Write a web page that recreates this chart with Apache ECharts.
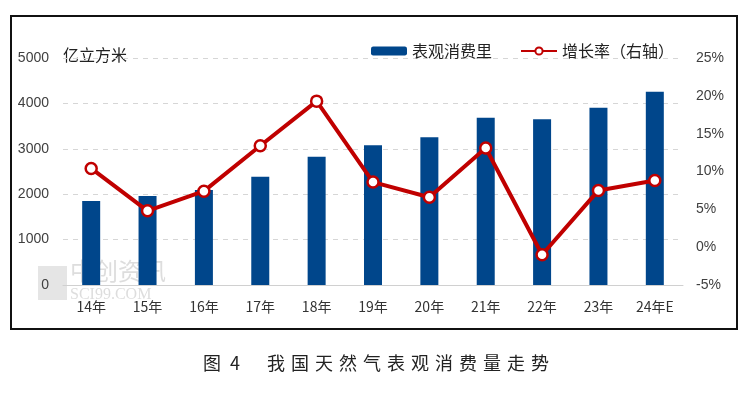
<!DOCTYPE html>
<html>
<head>
<meta charset="utf-8">
<script src="https://cdn.jsdelivr.net/npm/echarts@6/dist/echarts.min.js"></script>
<style>
  html, body { margin: 0; padding: 0; background: #fff; }
  #chart { width: 752px; height: 397px; }
</style>
</head>
<body>
<div id="chart"></div>
<script>
// data
const years = ['14年', '15年', '16年', '17年', '18年', '19年', '20年', '21年', '22年', '23年', '24年E']
const consumption = [1850, 1960, 2090, 2385, 2826, 3077, 3253, 3685, 3650, 3905, 4258]
const growth = [10.4, 4.8, 7.4, 13.4, 19.3, 8.6, 6.6, 13.1, -1.0, 7.5, 8.8]
const leftTicks = { min: 0, max: 5000, step: 1000 }
const rightTicks = { min: -5, max: 25, step: 5 }

const labelFont = 'Liberation Sans, Noto Sans CJK SC, sans-serif'
const cjkFont = 'Noto Sans CJK SC, sans-serif'

const myChart = echarts.init(document.getElementById('chart'))

const options = {
  animation: false,
  backgroundColor: '#fff',
  title: {
    text: '图\u20024\u2003\u2002我\u2004国\u2004天\u2004然\u2004气\u2004表\u2004观\u2004消\u2004费\u2004量\u2004走\u2004势',
    left: 'center',
    top: 349,
    textStyle: { fontFamily: cjkFont, fontSize: 18, fontWeight: 'normal', color: '#222' }
  },
  legend: {
    left: 366,
    top: 38,
    itemGap: 28,
    itemWidth: 36,
    itemHeight: 9,
    textStyle: { fontFamily: cjkFont, fontSize: 16, color: '#222' },
    data: ['表观消费里', '增长率（右轴）']
  },
  grid: { left: 63, right: 69, top: 58, bottom: 112 },
  xAxis: {
    type: 'category',
    data: years,
    axisLine: { lineStyle: { color: '#d0d0d0', width: 1 } },
    axisTick: { show: false },
    axisLabel: { fontFamily: cjkFont, fontSize: 14, color: '#333', margin: 15 }
  },
  yAxis: [
    {
      type: 'value',
      min: leftTicks.min,
      max: leftTicks.max,
      interval: leftTicks.step,
      axisLine: { show: false },
      axisTick: { show: false },
      axisLabel: { fontFamily: labelFont, fontSize: 14, color: '#404040', margin: 14, formatter: v => String(v) },
      splitLine: { lineStyle: { color: '#d6d6d6', type: [5, 5], width: 1 } }
    },
    {
      type: 'value',
      min: rightTicks.min,
      max: rightTicks.max,
      interval: rightTicks.step,
      axisLine: { show: false },
      axisTick: { show: false },
      axisLabel: { fontFamily: labelFont, fontSize: 14, color: '#404040', margin: 13, formatter: '{value}%' },
      splitLine: { show: false }
    }
  ],
  series: [
    {
      name: '表观消费里',
      type: 'bar',
      data: consumption,
      barWidth: 18,
      itemStyle: { color: '#00468B' }
    },
    {
      name: '增长率（右轴）',
      type: 'line',
      yAxisIndex: 1,
      data: growth,
      symbol: 'circle',
      symbolSize: 11,
      lineStyle: { color: '#C00000', width: 4 },
      itemStyle: { color: '#fff', borderColor: '#C00000', borderWidth: 2.5 }
    }
  ],
  graphic: [
    {
      type: 'rect',
      shape: { x: 11, y: 16, width: 726, height: 313 },
      style: { fill: 'none', stroke: '#111', lineWidth: 2 },
      silent: true
    },
    {
      type: 'text',
      left: 63,
      top: 47,
      style: { text: '亿立方米', fontFamily: cjkFont, fontSize: 16, fill: '#222' }
    },
    // faint watermark
    {
      type: 'rect',
      shape: { x: 38, y: 266, width: 29, height: 34 },
      style: { fill: 'rgba(170,170,170,0.3)' },
      silent: true
    },
    {
      type: 'text',
      left: 70,
      top: 259,
      style: { text: '中创资讯', fontFamily: cjkFont, fontSize: 24, fill: 'rgba(170,170,170,0.4)' },
      silent: true
    },
    {
      type: 'text',
      left: 70,
      top: 287,
      style: { text: 'SCI99.COM', fontFamily: 'Liberation Serif, serif', fontSize: 16, fill: 'rgba(170,170,170,0.4)' },
      silent: true
    }
  ]
}

myChart.setOption(options)
</script>
</body>
</html>
